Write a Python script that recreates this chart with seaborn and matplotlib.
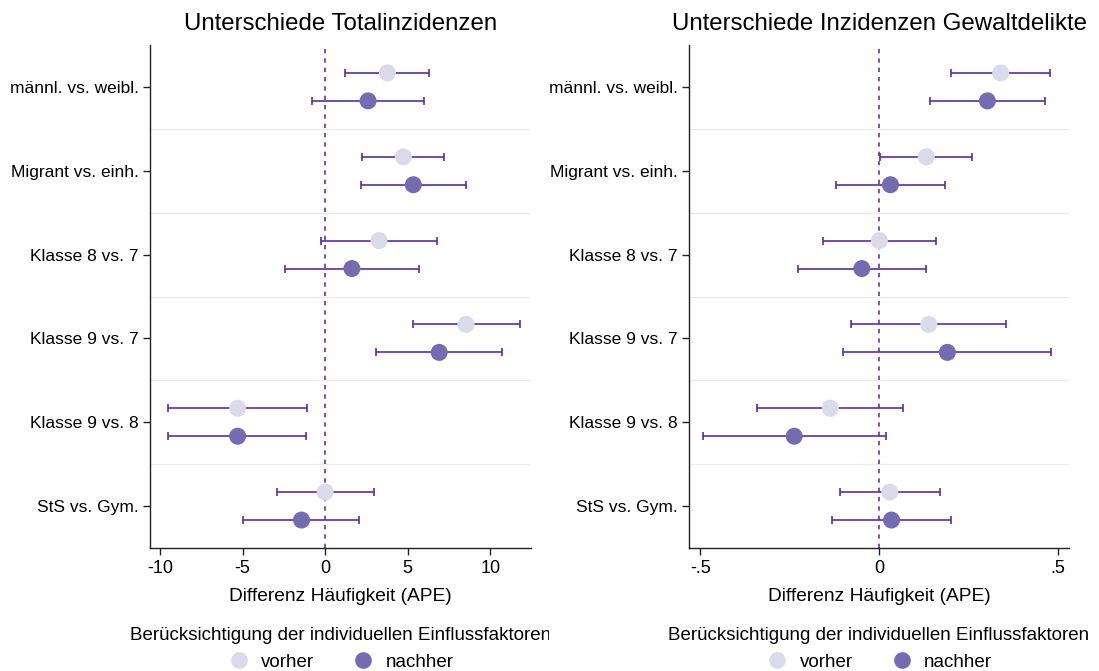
import numpy as np
import pandas as pd
import seaborn as sns
import matplotlib
matplotlib.use("Agg")
import matplotlib.pyplot as plt
from matplotlib.lines import Line2D
from matplotlib.transforms import Bbox, TransformedBbox

# ---- data -------------------------------------------------------------
comparisons = ["männl. vs. weibl.", "Migrant vs. einh.", "Klasse 8 vs. 7",
               "Klasse 9 vs. 7", "Klasse 9 vs. 8", "StS vs. Gym."]
states = ["vorher", "nachher"]

# Totalinzidenzen (APE, CI)
tot_vorher = [3.77, 4.74, 3.26, 8.53, -5.30, 0.00]
tot_vorher_lo = [1.23, 2.26, -0.26, 5.32, -9.49, -2.94]
tot_vorher_hi = [6.32, 7.23, 6.77, 11.79, -1.11, 2.96]
tot_nachher = [2.60, 5.34, 1.62, 6.91, -5.30, -1.43]
tot_nachher_lo = [-0.77, 2.15, -2.43, 3.06, -9.49, -4.98]
tot_nachher_hi = [5.96, 8.53, 5.68, 10.74, -1.13, 2.06]

# Inzidenzen Gewaltdelikte (APE, CI)
gew_vorher = [0.339, 0.131, 0.000, 0.138, -0.137, 0.029]
gew_vorher_lo = [0.201, 0.002, -0.157, -0.079, -0.342, -0.110]
gew_vorher_hi = [0.477, 0.259, 0.157, 0.353, 0.067, 0.169]
gew_nachher = [0.302, 0.031, -0.049, 0.190, -0.238, 0.034]
gew_nachher_lo = [0.141, -0.121, -0.227, -0.102, -0.494, -0.133]
gew_nachher_hi = [0.463, 0.183, 0.130, 0.481, 0.018, 0.199]

titles = ["Unterschiede Totalinzidenzen", "Unterschiede Inzidenzen Gewaltdelikte"]
x_ticks = [[-10, -5, 0, 5, 10], [-0.5, 0, 0.5]]
x_ticklabels = [["-10", "-5", "0", "5", "10"], ["-.5", "0", ".5"]]
x_label = "Differenz Häufigkeit (APE)"
legend_title = "Berücksichtigung der individuellen Einflussfaktoren"


def build_frame(v, vlo, vhi, n, nlo, nhi):
    rows = []
    for i, c in enumerate(comparisons):
        rows.append(dict(comparison=c, state="vorher", idx=i,
                         est=v[i], lo=vlo[i], hi=vhi[i]))
        rows.append(dict(comparison=c, state="nachher", idx=i,
                         est=n[i], lo=nlo[i], hi=nhi[i]))
    df = pd.DataFrame(rows)
    df["ypos"] = df["idx"] + np.where(df["state"] == "vorher", -1 / 6, 1 / 6)
    return df


frames = [
    build_frame(tot_vorher, tot_vorher_lo, tot_vorher_hi,
                tot_nachher, tot_nachher_lo, tot_nachher_hi),
    build_frame(gew_vorher, gew_vorher_lo, gew_vorher_hi,
                gew_nachher, gew_nachher_lo, gew_nachher_hi),
]

# ---- style ------------------------------------------------------------
sns.set_theme(style="white")
plt.rcParams["font.family"] = ["Liberation Sans", "DejaVu Sans"]
plt.rcParams["text.color"] = "black"
plt.rcParams["axes.labelcolor"] = "black"
plt.rcParams["xtick.color"] = "black"
plt.rcParams["ytick.color"] = "black"

palette = {"vorher": "#dadaeb", "nachher": "#756bb1"}
ci_color = "#5b2d9e"
zero_color = "#6334ab"
spine_color = "#222222"
fs = 12.5
fs_leg = 13.5

W, H = 1099, 671
fig = plt.figure(figsize=(W / 100, H / 100), dpi=100)
axes_px = [(150, 531), (689, 1069)]
top_px, bottom_px = 45, 548
xlims = [(-10.61, 12.47), (-0.532, 0.530)]

for k, (df, (x0, x1)) in enumerate(zip(frames, axes_px)):
    ax = fig.add_axes([x0 / W, (H - bottom_px) / H,
                       (x1 - x0) / W, (bottom_px - top_px) / H])

    # group separators
    for b in np.arange(0.5, len(comparisons) - 0.5, 1.0):
        ax.axhline(b, color="#ebebeb", lw=0.9, zorder=0)

    # reference line at zero
    ax.axvline(0, color=zero_color, lw=1.2, ls=(0, (2.6, 3.0)), zorder=1)

    # confidence intervals
    for st in states:
        sub = df[df["state"] == st]
        ax.errorbar(sub["est"], sub["ypos"],
                    xerr=[sub["est"] - sub["lo"], sub["hi"] - sub["est"]],
                    fmt="none", ecolor=ci_color, elinewidth=1.2,
                    capsize=3.2, capthick=1.2, zorder=2)

    # point estimates
    sns.scatterplot(data=df, x="est", y="ypos", hue="state",
                    hue_order=states, palette=palette, s=150,
                    linewidth=0, legend=False, zorder=3, ax=ax)

    ax.set_xlim(*xlims[k])
    ax.set_ylim(len(comparisons) - 0.5, -0.5)
    ax.set_yticks(range(len(comparisons)))
    ax.set_yticklabels(comparisons, fontsize=fs)
    ax.set_xticks(x_ticks[k])
    ax.set_xticklabels(x_ticklabels[k], fontsize=fs + 0.5)
    ax.set_xlabel(x_label, fontsize=13.8, labelpad=8)
    ax.set_ylabel("")
    ax.set_title(titles[k], fontsize=17.3, pad=11)

    for side in ("top", "right"):
        ax.spines[side].set_visible(False)
    for side in ("left", "bottom"):
        ax.spines[side].set_color(spine_color)
        ax.spines[side].set_linewidth(1.0)
    ax.tick_params(axis="both", which="major", direction="out",
                   length=5, width=1.0, color=spine_color,
                   left=True, bottom=True)
    ax.tick_params(axis="x", pad=3.5)
    ax.tick_params(axis="y", pad=3)

    # legend below each panel
    handles = [Line2D([], [], ls="none", marker="o", ms=12,
                      markerfacecolor=palette[s], markeredgewidth=0)
               for s in states]
    cx = (x0 + x1) / 2 / W
    leg = fig.legend(handles, states, title=legend_title, ncol=2,
                     loc="lower center", bbox_to_anchor=(cx, 0.0),
                     frameon=False, fontsize=fs_leg, title_fontsize=fs_leg,
                     handlelength=1.2, handletextpad=0.6,
                     columnspacing=2.0, borderaxespad=0.0,
                     borderpad=0.0)
    if k == 0:
        clip = TransformedBbox(Bbox([[0, 0], [549 / W, 1]]), fig.transFigure)
        leg.get_title().set_clip_box(clip)
        leg.get_title().set_clip_on(True)

fig.savefig("out.png", dpi=100)
